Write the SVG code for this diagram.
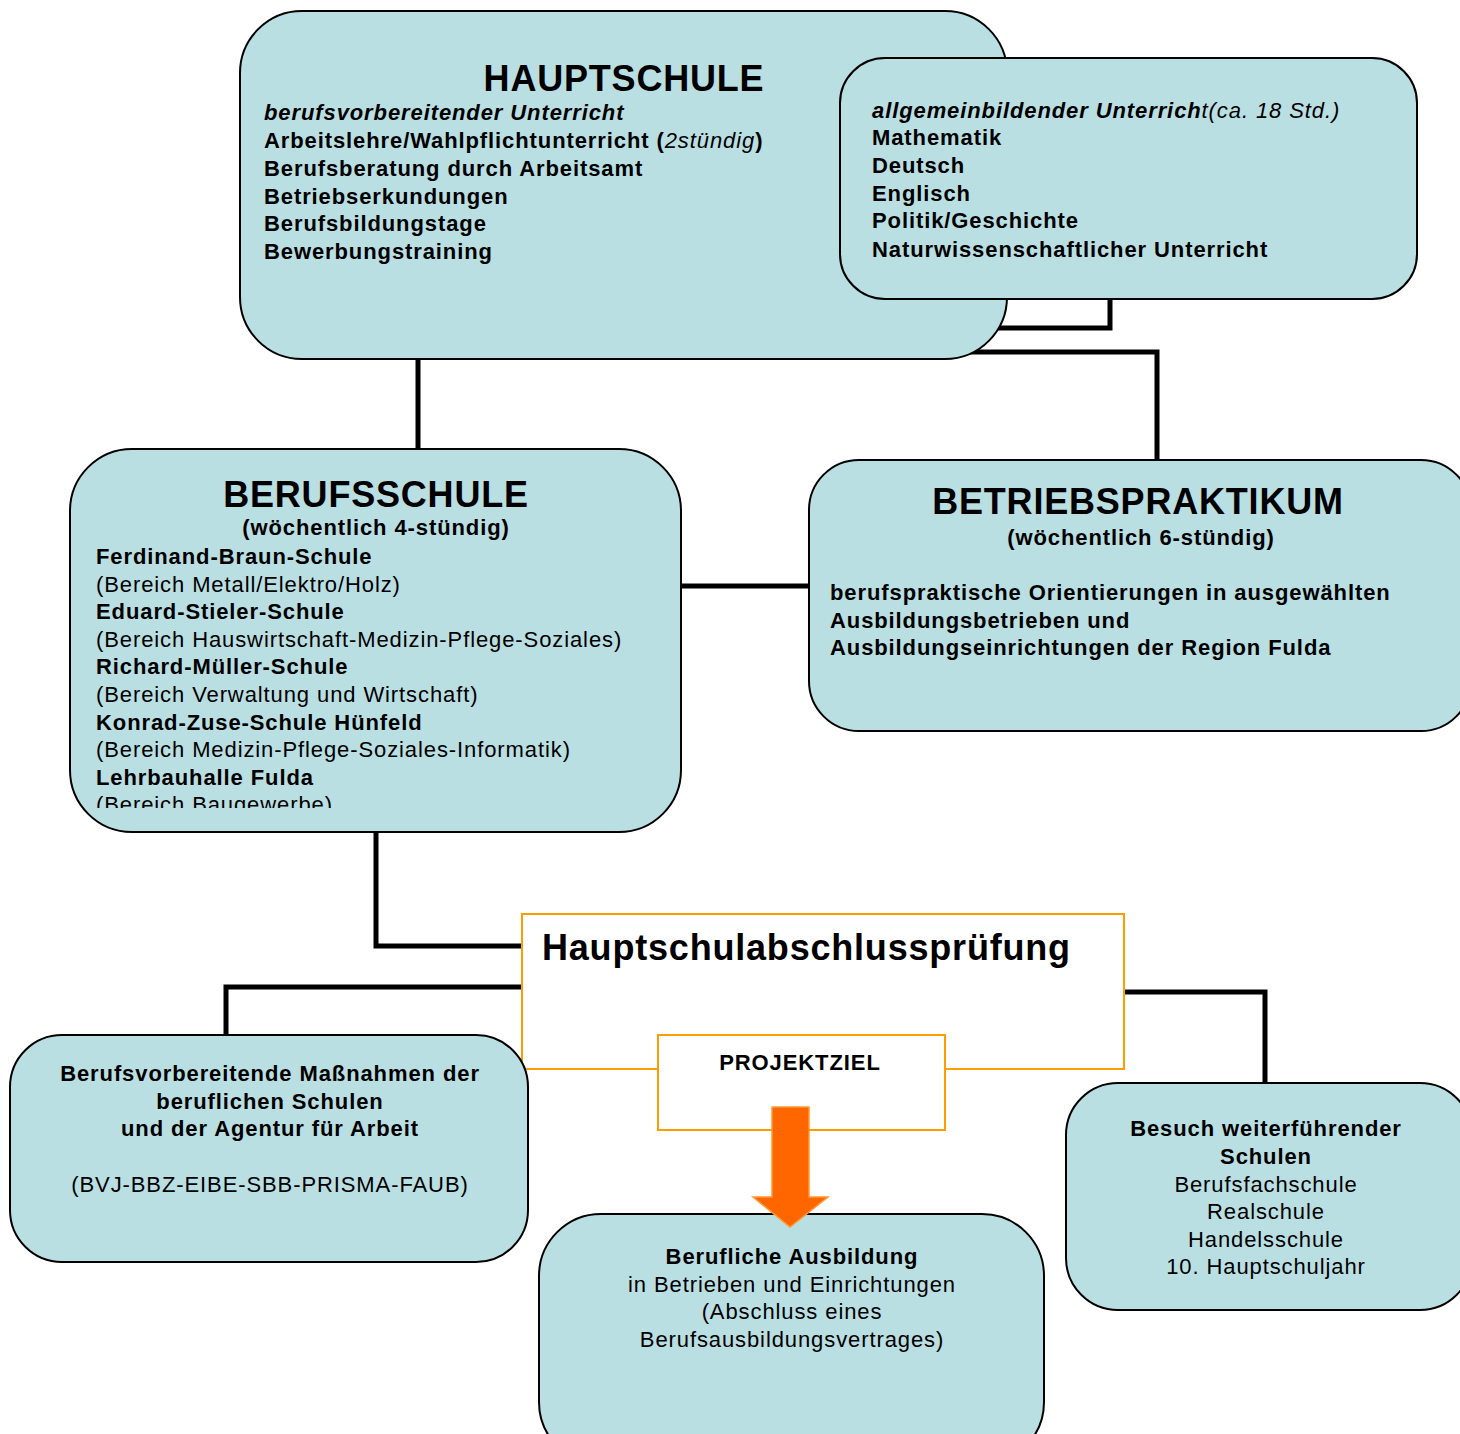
<svg xmlns="http://www.w3.org/2000/svg" width="1460" height="1434" viewBox="0 0 1460 1434">
<style>
.box{fill:#b9dfe3;stroke:#000;stroke-width:2}
.obox{fill:#fff;stroke:#ff9c00;stroke-width:2}
.conn{fill:none;stroke:#000;stroke-width:5}
text{font-family:"Liberation Sans",Arial,sans-serif;fill:#000}
.t{font-size:36px;font-weight:bold;letter-spacing:0.8px}
.b{font-size:22px;font-weight:bold;letter-spacing:0.9px}
.n{font-size:22px;letter-spacing:0.9px}
.i{font-style:italic}
.c{text-anchor:middle}
</style>
<defs>
<clipPath id="clipBS"><rect x="70" y="449" width="612" height="359"/></clipPath>
</defs>
<rect width="1460" height="1434" fill="#fff"/>
<g id="connectors">
<polyline class="conn" points="1110,299 1110,328 990,328"/>
<polyline class="conn" points="960,352 1157,352 1157,460"/>
<line class="conn" x1="418" y1="359" x2="418" y2="449"/>
<line class="conn" x1="681" y1="586" x2="810" y2="586"/>
<polyline class="conn" points="376,832 376,946 522,946"/>
<polyline class="conn" points="522,987 226,987 226,1035"/>
<polyline class="conn" points="1124,992 1265,992 1265,1083"/>
</g>
<g id="hauptschule">
<rect class="box" x="240" y="11" width="767" height="348" rx="62" ry="62"/>
<text class="t c" x="624" y="91">HAUPTSCHULE</text>
<text class="b i" x="264" y="120">berufsvorbereitender Unterricht</text>
<text class="b" x="264" y="148">Arbeitslehre/Wahlpflichtunterricht (<tspan font-weight="normal" font-style="italic">2stündig</tspan>)</text>
<text class="b" x="264" y="176">Berufsberatung durch Arbeitsamt</text>
<text class="b" x="264" y="204">Betriebserkundungen</text>
<text class="b" x="264" y="231">Berufsbildungstage</text>
<text class="b" x="264" y="259">Bewerbungstraining</text>
</g>
<g id="allgemeinbildend">
<rect class="box" x="840" y="58" width="577" height="241" rx="45" ry="45"/>
<text class="b" x="872" y="118"><tspan font-style="italic">allgemeinbildender Unterrich</tspan><tspan font-style="italic" font-weight="normal">t(ca. 18 Std.)</tspan></text>
<text class="b" x="872" y="145">Mathematik</text>
<text class="b" x="872" y="173">Deutsch</text>
<text class="b" x="872" y="201">Englisch</text>
<text class="b" x="872" y="228">Politik/Geschichte</text>
<text class="b" x="872" y="257">Naturwissenschaftlicher Unterricht</text>
</g>
<g id="berufsschule">
<rect class="box" x="70" y="449" width="611" height="383" rx="62" ry="62"/>
<text class="t c" x="376" y="507">BERUFSSCHULE</text>
<text class="b c" x="376" y="535">(wöchentlich 4-stündig)</text>
<g clip-path="url(#clipBS)">
<text class="b" x="96" y="564">Ferdinand-Braun-Schule</text>
<text class="n" x="96" y="592">(Bereich Metall/Elektro/Holz)</text>
<text class="b" x="96" y="619">Eduard-Stieler-Schule</text>
<text class="n" x="96" y="647">(Bereich Hauswirtschaft-Medizin-Pflege-Soziales)</text>
<text class="b" x="96" y="674">Richard-Müller-Schule</text>
<text class="n" x="96" y="702">(Bereich Verwaltung und Wirtschaft)</text>
<text class="b" x="96" y="730">Konrad-Zuse-Schule Hünfeld</text>
<text class="n" x="96" y="757">(Bereich Medizin-Pflege-Soziales-Informatik)</text>
<text class="b" x="96" y="785">Lehrbauhalle Fulda</text>
<text class="n" x="96" y="812">(Bereich Baugewerbe)</text>
</g>
</g>
<g id="betriebspraktikum">
<rect class="box" x="809" y="460" width="662" height="271" rx="50" ry="50"/>
<text class="t c" x="1138" y="514">BETRIEBSPRAKTIKUM</text>
<text class="b c" x="1141" y="545">(wöchentlich 6-stündig)</text>
<text class="b" x="830" y="600">berufspraktische Orientierungen in ausgewählten</text>
<text class="b" x="830" y="628">Ausbildungsbetrieben und</text>
<text class="b" x="830" y="655">Ausbildungseinrichtungen der Region Fulda</text>
</g>
<g id="pruefung">
<rect class="obox" x="522" y="914" width="602" height="155"/>
<text class="t" x="542" y="960">Hauptschulabschlussprüfung</text>
</g>
<g id="berufsvorbereitend">
<rect class="box" x="10" y="1035" width="518" height="227" rx="52" ry="52"/>
<text class="b c" x="270" y="1081">Berufsvorbereitende Maßnahmen der</text>
<text class="b c" x="270" y="1109">beruflichen Schulen</text>
<text class="b c" x="270" y="1136">und der Agentur für Arbeit</text>
<text class="n c" x="270" y="1192">(BVJ-BBZ-EIBE-SBB-PRISMA-FAUB)</text>
</g>
<g id="weiterfuehrend">
<rect class="box" x="1066" y="1083" width="406" height="227" rx="52" ry="52"/>
<text class="b c" x="1266" y="1136">Besuch weiterführender</text>
<text class="b c" x="1266" y="1164">Schulen</text>
<text class="n c" x="1266" y="1192">Berufsfachschule</text>
<text class="n c" x="1266" y="1219">Realschule</text>
<text class="n c" x="1266" y="1247">Handelsschule</text>
<text class="n c" x="1266" y="1274">10. Hauptschuljahr</text>
</g>
<g id="ausbildung">
<rect class="box" x="539" y="1214" width="505" height="250" rx="62" ry="62"/>
<text class="b c" x="792" y="1264">Berufliche Ausbildung</text>
<text class="n c" x="792" y="1292">in Betrieben und Einrichtungen</text>
<text class="n c" x="792" y="1319">(Abschluss eines</text>
<text class="n c" x="792" y="1347">Berufsausbildungsvertrages)</text>
</g>
<g id="projektziel">
<rect class="obox" x="658" y="1035" width="287" height="95"/>
<text class="b c" x="800" y="1070">PROJEKTZIEL</text>
</g>
<g id="arrow">
<polygon points="772,1107 809,1107 809,1197 828,1197 790,1227 753,1197 772,1197" fill="#ff6600" stroke="#ff9933" stroke-width="1.5"/>
</g>
</svg>
